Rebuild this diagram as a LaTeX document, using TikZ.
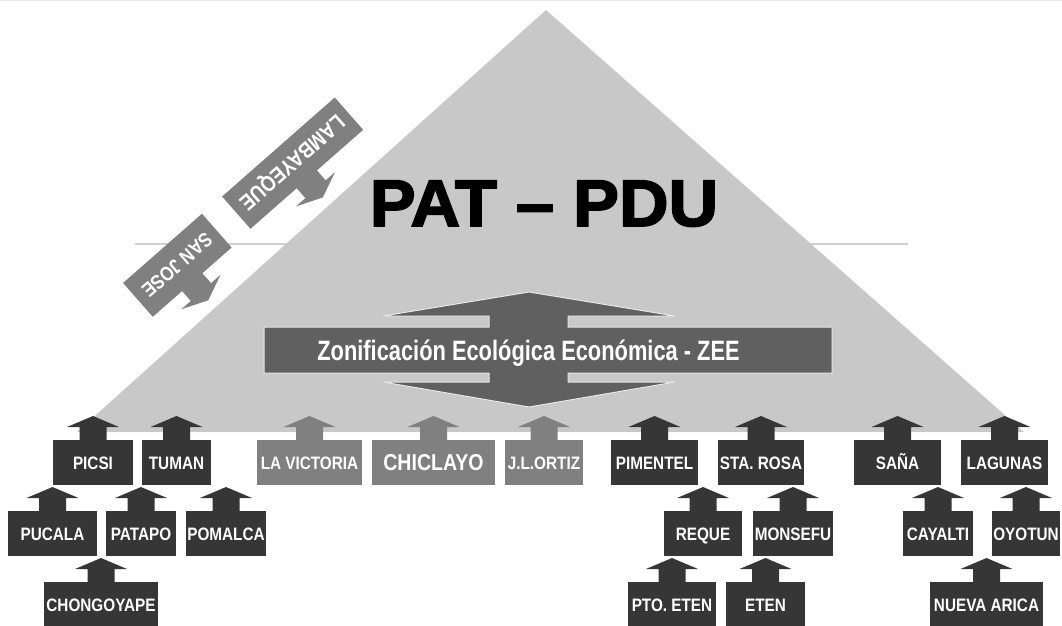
\documentclass[tikz,border=0pt]{standalone}
\usepackage{fontspec}
\newfontfamily\nf[FakeStretch=0.85]{Liberation Sans}
\newfontfamily\zf[FakeStretch=0.78]{Liberation Sans}
\newfontfamily\heavy[FakeBold=2.5,FakeStretch=1.04]{Liberation Sans Bold}
\definecolor{dk}{HTML}{363636}
\definecolor{md}{HTML}{808080}
\definecolor{zee}{HTML}{606060}
\definecolor{tri}{HTML}{C8C8C8}
\definecolor{hl}{HTML}{D0D0D0}
\definecolor{edge}{HTML}{E8E8E8}
\tikzset{
  cbx/.style={inner sep=0pt, minimum height=45pt, text=white,
    font=\nf\bfseries\fontsize{18}{18}\selectfont, text height=12.9pt, text depth=0pt},
  bigtxt/.style={font=\nf\bfseries\fontsize{23}{23}\selectfont, text height=16.5pt},
  rottxt/.style={font=\nf\bfseries\fontsize{#1}{#1}\selectfont, text height=0.716*#1 pt},
}
\newcommand\cbox[7][]{%
  \node[cbx, fill=#6, minimum width=#5pt, anchor=north, #1] (#2) at (#3,#4) {#7};
  \fill[#6] (#2.north) ++(-13.5,0.5) -- ++(0,-13.5) -- ++(-12.5,0) -- ++(26,-11)
    -- ++(26,11) -- ++(-12.5,0) -- ++(0,13.5) -- cycle;
}
\begin{document}
\begin{tikzpicture}[x=1pt,y=-1pt]
\useasboundingbox (0,0) rectangle (1062,625);
\draw[edge, line width=1pt] (0,0.5) -- (1062,0.5);
\draw[hl, line width=1.2pt] (135,244) -- (908,244);
\fill[tri] (77,432) -- (546,10) -- (1024,432) -- cycle;
% ZEE double arrow
\filldraw[fill=zee, draw=edge, line width=1pt]
  (264,327) -- (489,327) -- (489,316) -- (383,316) -- (529,292) -- (675,316)
  -- (568,316) -- (568,327) -- (832,327) -- (832,373) -- (568,373) -- (568,382)
  -- (675,382) -- (529,407) -- (383,382) -- (489,382) -- (489,373) -- (264,373) -- cycle;
\node[anchor=base, text=white, font=\zf\bfseries\fontsize{28}{28}\selectfont]
  (zeetext) at (528.5,360) {Zonificación Ecológica Económica - ZEE};
\node[anchor=base, text=black, font=\heavy\fontsize{66}{66}\selectfont]
  (title) at (544,226) {PAT – PDU};
% rotated callouts
\begin{scope}[shift={(292.75,163.3)}, rotate=-138.7, transform shape]
  \cbox[minimum height=43pt, rottxt=22]{lamb}{0}{-21.5}{150}{md}{LAMBAYEQUE}
\end{scope}
\begin{scope}[shift={(177.5,265.4)}, rotate=-138.7, transform shape]
  \cbox[rottxt=20]{sanjose}{0}{-22.5}{105}{md}{SAN JOSE}
\end{scope}
% row 1
\cbox{picsi}{93}{440}{80}{dk}{PICSI}
\cbox{tuman}{176.5}{440}{69}{dk}{TUMAN}
\cbox{lavic}{309.5}{440}{105}{md}{LA VICTORIA}
\cbox[bigtxt]{chic}{433.5}{440}{123}{md}{CHICLAYO}
\cbox{jlo}{544}{440}{78}{md}{J.L.ORTIZ}
\cbox{pim}{654.5}{440}{87}{dk}{PIMENTEL}
\cbox{sta}{761}{440}{86}{dk}{STA. ROSA}
\cbox{sana}{897.5}{440}{87}{dk}{SAÑA}
\cbox{lag}{1004.5}{440}{87}{dk}{LAGUNAS}
% row 2
\cbox{puc}{52.5}{511}{89}{dk}{PUCALA}
\cbox{pat}{141}{511}{70}{dk}{PATAPO}
\cbox{pom}{226}{511}{80}{dk}{POMALCA}
\cbox{req}{703}{511}{78}{dk}{REQUE}
\cbox{mon}{793}{511}{80}{dk}{MONSEFU}
\cbox{cay}{938}{511}{70}{dk}{CAYALTI}
\cbox{oyo}{1026}{511}{68}{dk}{OYOTUN}
% row 3
\cbox{chon}{101}{582}{114}{dk}{CHONGOYAPE}
\cbox{pto}{672}{582}{88}{dk}{PTO. ETEN}
\cbox{eten}{765.5}{582}{79}{dk}{ETEN}
\cbox{nue}{986.5}{582}{113}{dk}{NUEVA ARICA}
\end{tikzpicture}
\end{document}
